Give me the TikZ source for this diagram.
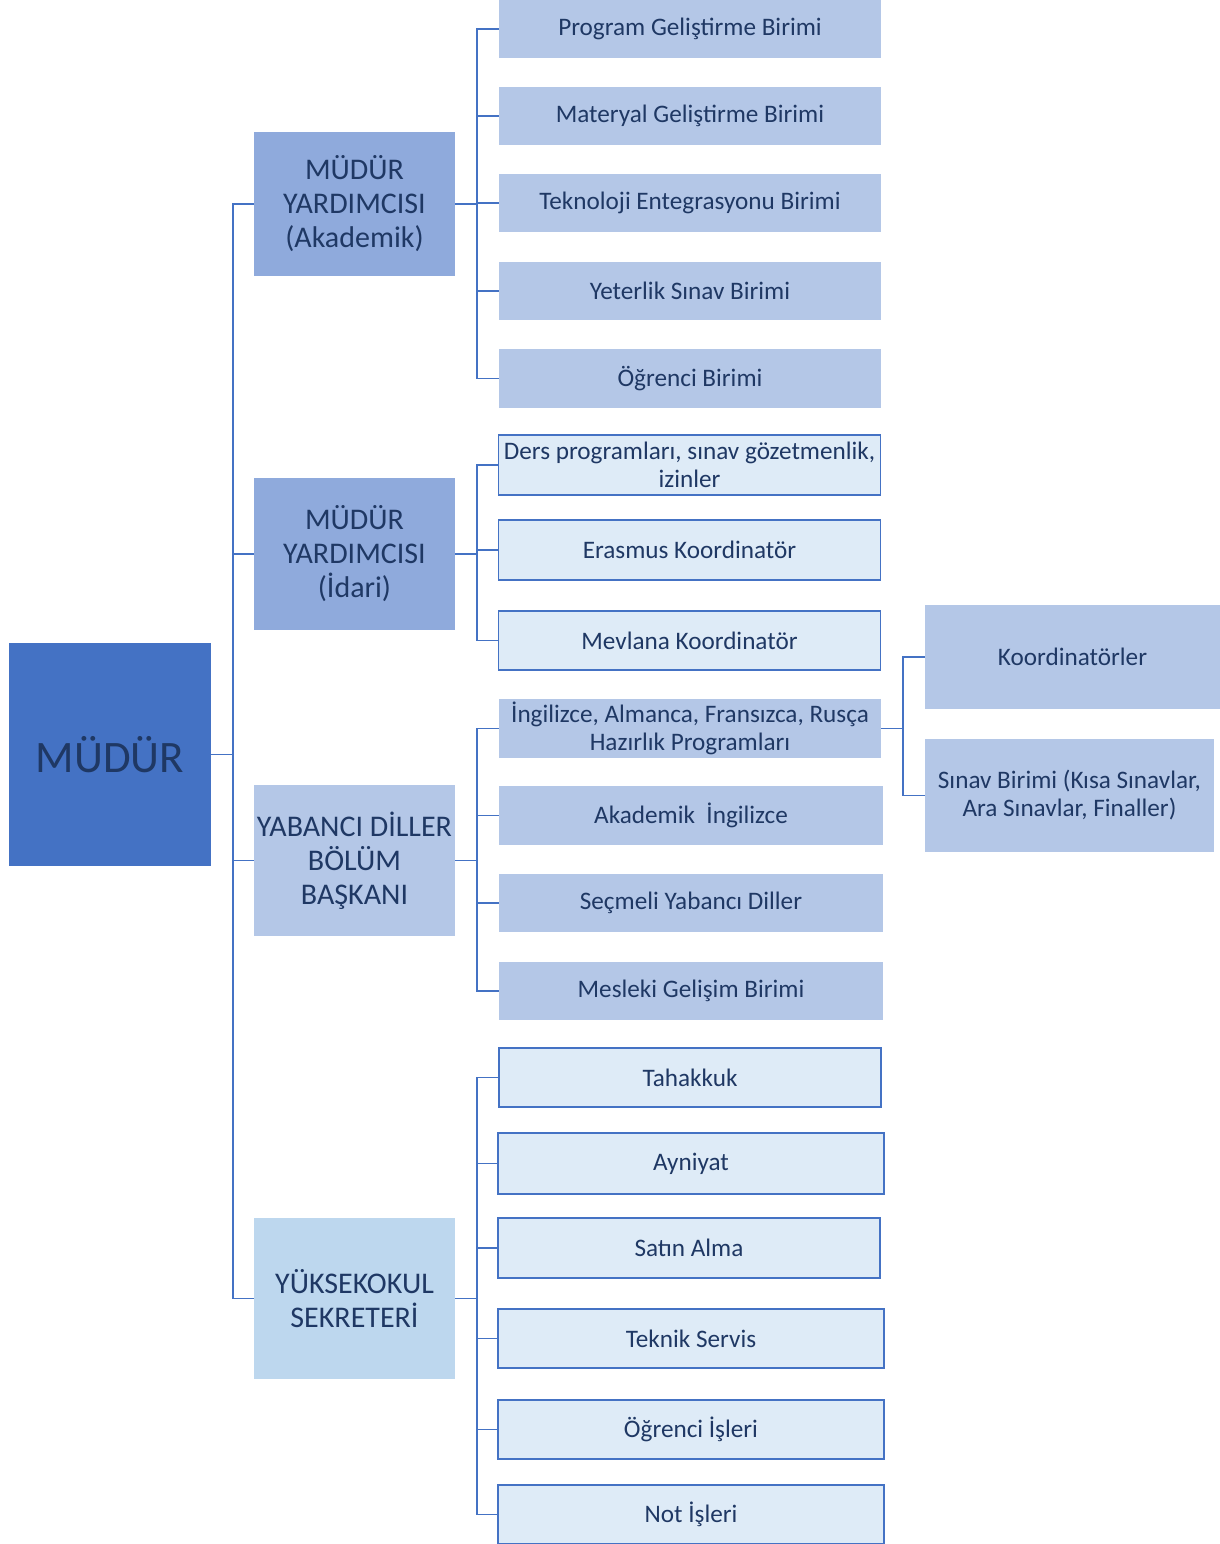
\documentclass[tikz,border=0pt]{standalone}
\usepackage{fontspec}
\setmainfont{Carlito}
\definecolor{yazi}{HTML}{1F3864}
\definecolor{koyu}{HTML}{4472C4}
\definecolor{orta}{HTML}{8FAADC}
\definecolor{acik}{HTML}{B4C7E7}
\definecolor{gok}{HTML}{BDD7EE}
\definecolor{soluk}{HTML}{DEEBF7}
\tikzset{
  kutu/.style={rectangle, inner sep=0pt, align=center, text=yazi},
  mudurkutu/.style={kutu, fill=koyu, minimum width=101pt, minimum height=111.5pt, font=\fontsize{22.5}{26}\selectfont},
  yardkutu/.style={kutu, fill=orta, minimum width=100.5pt, font=\fontsize{15}{17}\selectfont},
  birim/.style={kutu, fill=acik, minimum width=191pt, minimum height=29pt, font=\fontsize{12.6}{14}\selectfont},
  cerceve/.style={kutu, fill=soluk, draw=koyu, line width=0.75pt, minimum width=191pt, minimum height=29.5pt, font=\fontsize{12.6}{14}\selectfont},
  hat/.style={draw=koyu, line width=0.7pt}
}
\begin{document}
\begin{tikzpicture}[x=0.5pt,y=-0.5pt]
    \useasboundingbox (0,0) rectangle (1220,1544);
    % ana kutu ve ikinci sira
    \node[mudurkutu] (mudur) at (110,754.5) {MÜDÜR};
    \node[yardkutu, minimum height=72pt] (akad) at (354.5,204) {MÜDÜR\\YARDIMCISI\\(Akademik)};
    \node[yardkutu, minimum height=76pt] (idari) at (354.5,554) {MÜDÜR\\YARDIMCISI\\(İdari)};
    \node[yardkutu, fill=acik, minimum height=75.5pt] (ydb) at (354.5,860.5) {YABANCI DİLLER\\BÖLÜM\\BAŞKANI};
    \node[yardkutu, fill=gok, minimum height=80.5pt] (ys) at (354.5,1298.5) {YÜKSEKOKUL\\SEKRETERİ};
    % akademik birimler
    \node[birim] (prog) at (690,29) {Program Geliştirme Birimi};
    \node[birim] (mat) at (690,116) {Materyal Geliştirme Birimi};
    \node[birim] (tek) at (690,203) {Teknoloji Entegrasyonu Birimi};
    \node[birim] (yet) at (690,291) {Yeterlik Sınav Birimi};
    \node[birim, minimum height=29.5pt] (ogr) at (690,378.5) {Öğrenci Birimi};
    % idari birimler
    \node[cerceve, minimum height=30pt] (ders) at (689.5,465) {Ders programları, sınav gözetmenlik,\\izinler};
    \node[cerceve, minimum height=30pt] (eras) at (689.5,550) {Erasmus Koordinatör};
    \node[cerceve] (mev) at (689.5,640.5) {Mevlana Koordinatör};
    % yabanci diller
    \node[birim, minimum height=29.5pt] (ing) at (690,728.5) {İngilizce, Almanca, Fransızca, Rusça\\Hazırlık Programları};
    \node[birim, minimum width=192pt, minimum height=29.5pt] (akading) at (691,815.5) {Akademik\ \ İngilizce};
    \node[birim, minimum width=192pt] (secmeli) at (691,903) {Seçmeli Yabancı Diller};
    \node[birim, minimum width=192pt] (mesleki) at (691,991) {Mesleki Gelişim Birimi};
    \node[birim, minimum width=147.5pt, minimum height=52pt] (koord) at (1072.5,657) {Koordinatörler};
    \node[birim, minimum width=144.5pt, minimum height=56.5pt] (sinav) at (1069.5,795.5) {Sınav Birimi (Kısa Sınavlar,\\Ara Sınavlar, Finaller)};
    % sekreterlik
    \node[cerceve] (tah) at (690,1077.5) {Tahakkuk};
    \node[cerceve, minimum width=193pt, minimum height=30.5pt] (ayn) at (691,1163.5) {Ayniyat};
    \node[cerceve, minimum height=30pt] (satin) at (689,1248) {Satın Alma};
    \node[cerceve, minimum width=193pt] (teknik) at (691,1338.5) {Teknik Servis};
    \node[cerceve, minimum width=193pt] (ogris) at (691,1429.5) {Öğrenci İşleri};
    \node[cerceve, minimum width=193pt] (notis) at (691,1514.5) {Not İşleri};
    % baglantilar
    \coordinate (t0) at (233,754.5);
    \coordinate (a0) at (477,204);
    \coordinate (i0) at (477,554);
    \coordinate (y0) at (477,860.5);
    \coordinate (s0) at (477,1298.5);
    \coordinate (h0) at (903,728.5);
    \draw[hat] (mudur.east) -- (t0);
    \foreach \n in {akad,idari,ydb,ys}
        \draw[hat] (\n.west) -| (t0);
    \draw[hat] (akad.east) -- (a0);
    \foreach \n in {prog,mat,tek,yet,ogr}
        \draw[hat] (\n.west) -| (a0);
    \draw[hat] (idari.east) -- (i0);
    \foreach \n in {ders,eras,mev}
        \draw[hat] (\n.west) -| (i0);
    \draw[hat] (ydb.east) -- (y0);
    \foreach \n in {ing,akading,secmeli,mesleki}
        \draw[hat] (\n.west) -| (y0);
    \draw[hat] (ys.east) -- (s0);
    \foreach \n in {tah,ayn,satin,teknik,ogris,notis}
        \draw[hat] (\n.west) -| (s0);
    \draw[hat] (ing.east) -- (h0);
    \draw[hat] (koord.west) -| (h0);
    \draw[hat] (sinav.west) -| (h0);
\end{tikzpicture}
\end{document}
